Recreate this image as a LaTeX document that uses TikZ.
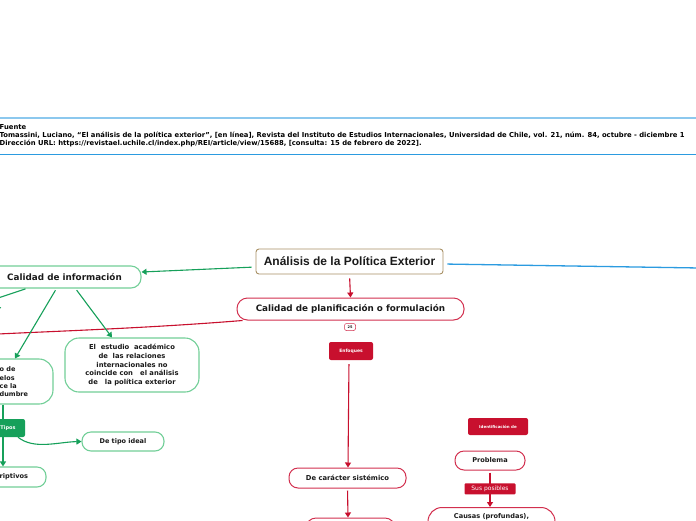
\documentclass[tikz,border=0pt]{standalone}
\usepackage{fontspec}
\setmainfont{DejaVu Sans}
\newfontfamily\arialfont{Liberation Sans}
\usetikzlibrary{arrows.meta}
\definecolor{gline}{HTML}{16A05A}
\definecolor{gbord}{HTML}{72CF98}
\definecolor{rline}{HTML}{C8102E}
\definecolor{rbord}{HTML}{D2304F}
\definecolor{bline}{HTML}{2B9BE0}
\definecolor{blight}{HTML}{8CC8EE}
\definecolor{brownb}{HTML}{A89064}
\definecolor{tx}{HTML}{1A1A1A}
\begin{document}
\begin{tikzpicture}[x=1pt,y=-1pt,
  every node/.style={text=tx, inner sep=0pt},
  fs/.style={font=\bfseries\fontsize{#1}{#1}\selectfont},
  gbox/.style={draw=gbord, line width=1.1pt, fill=white, rounded corners=#1},
  rbox/.style={draw=rbord, line width=1pt, fill=white, rounded corners=#1},
  gfill/.style={fill=gline, rounded corners=2pt, text=white},
  rfill/.style={fill=rline, rounded corners=2pt, text=white},
  tip/.style={-{Triangle[length=5pt,width=6pt]}},
  gl/.style={draw=gline, line width=1.1pt},
  rl/.style={draw=rline, line width=1.1pt},
  hdr/.style={fs=6.82, anchor=base west, text=black}
]
\fill[white] (0,0) rectangle (696,520);
\useasboundingbox (0,0) rectangle (696,520);

% header
\coordinate (hl1) at (-2,118); \coordinate (hr1) at (698,118);
\coordinate (hl2) at (-2,154.3); \coordinate (hr2) at (698,154.3);
\draw[blight, line width=1.8pt] (hl1) -- (hr1);
\draw[bline, line width=1.3pt] (hl2) -- (hr2);
\node[hdr] (fuente) at (-0.5,129) {Fuente};
\node[hdr] (ref1) at (-0.5,137.5) {Tomassini, Luciano, “El análisis de la política exterior”, [en línea], Revista del Instituto de Estudios Internacionales, Universidad de Chile, vol. 21, núm. 84, octubre - diciembre 1};
\node[hdr] (ref2) at (-0.5,145.5) {Dirección URL: https://revistael.uchile.cl/index.php/REI/article/view/15688, [consulta: 15 de febrero de 2022].};

% nodes
\node[draw=brownb, line width=0.9pt, fill=white, rounded corners=3pt, minimum width=187pt, minimum height=25pt,
      font=\arialfont\bfseries\fontsize{12}{14}\selectfont] (main) at (349.5,261.5) {Análisis de la Política Exterior};
\node[gbox=10pt, minimum width=153pt, minimum height=22pt, fs=8.8] (info) at (64.5,277) {Calidad de información};
\node[rbox=10.5pt, minimum width=227pt, minimum height=22pt, fs=8.8] (planif) at (350.5,309) {Calidad de planificación o formulación};
\node[rbox=2pt, line width=0.5pt, minimum width=11pt, minimum height=7pt, fs=3.5] (badge) at (350,327) {25};
\node[rfill, minimum width=44pt, minimum height=18pt, fs=4.5] (enf) at (351,351) {Enfoques};
\node[rbox=9pt, minimum width=117pt, minimum height=20pt, fs=6.8] (sist) at (347.5,478) {De carácter sistémico};
\node[rbox=10pt, minimum width=89pt, minimum height=24pt] (bot) at (350.5,530) {};
\node[rfill, minimum width=60pt, minimum height=17pt, fs=4] (ident) at (498,426.5) {Identificación de};
\node[rbox=9pt, minimum width=70pt, minimum height=19pt, fs=6.6] (prob) at (490,460.5) {Problema};
\node[rbox=14pt, anchor=north, minimum width=127pt, minimum height=40pt, text height=5pt, text depth=24pt, fs=6.6] (causas) at (491.5,507) {Causas (profundas),};
\node[gbox=14pt, minimum width=134pt, minimum height=54pt, align=center, font=\bfseries\fontsize{6.8}{8.6}\selectfont] (est) at (132,365)
  {El\ \ estudio\ \ académico\\de\ \ las relaciones\\internacionales no\\coincide con\ \ \ el análisis\\de\ \ \ la política exterior};
\node[gbox=14pt, minimum width=86pt, minimum height=45pt] (mod) at (10,381.5) {};
\node[anchor=west, align=left, font=\bfseries\fontsize{6.5}{8.3}\selectfont] (modtxt) at (-0.5,382) {o de\\elos\\ce la\\dumbre};
\node[gfill, minimum width=34pt, minimum height=18pt, fs=5] (tipos) at (8,428) {Tipos};
\node[gbox=9pt, minimum width=79pt, minimum height=20pt] (desc) at (6.5,477) {};
\node[anchor=west, fs=6.6] (desctxt) at (-0.5,477) {riptivos};
\node[gbox=9pt, minimum width=82pt, minimum height=19pt, fs=6.5] (ideal) at (123,441.5) {De tipo ideal};

% connectors
\coordinate (bend) at (700,268);
\coordinate (offA) at (-2,298);
\coordinate (offB) at (-2,312);
\coordinate (offC) at (-2,334);
\draw[gl, tip, shorten <=4pt] ([yshift=-5.5pt]main.west) -- ([yshift=5pt]info.east);
\draw[draw=bline, line width=1.3pt, shorten <=4pt] ([yshift=-2.5pt]main.east) -- (bend);
\draw[rl, tip, shorten <=4pt] (main.south) -- (planif.north);
\draw[rl] ([xshift=6pt]planif.south west) .. controls (150,328) and (60,331) .. (offC);
\draw[gl, tip, shorten <=1pt] ([xshift=39pt]info.south west) -- (offA) -- (offB);
\draw[gl, tip, shorten <=2pt] ([xshift=69pt]info.south west) -- ([xshift=5pt]mod.north);
\draw[gl, tip, shorten <=2pt] ([xshift=88pt]info.south west) -- ([xshift=-20pt]est.north);
\draw[gl] ([xshift=-7pt]mod.south) -- ([xshift=-5pt]tipos.north);
\draw[gl, tip] ([xshift=-5pt]tipos.south) -- ([xshift=-3.5pt]desc.north);
\draw[gl, tip] ([xshift=10pt]tipos.south) .. controls (34,450) and (58,442) .. (ideal.west);
\draw[rl, tip, shorten <=4pt] ([xshift=-2pt]enf.south) -- ([xshift=0.5pt]sist.north);
\draw[rl, tip, shorten <=2pt] (sist.south) -- ([xshift=-2.5pt]bot.north);
\draw[rl, tip, shorten <=2pt] (prob.south) -- ([xshift=-1.5pt]causas.north)
  node[pos=0.5, rfill, rounded corners=1pt, minimum width=51pt, minimum height=11pt, font=\fontsize{6}{6}\selectfont] (sus) {Sus posibles};
\end{tikzpicture}
\end{document}
